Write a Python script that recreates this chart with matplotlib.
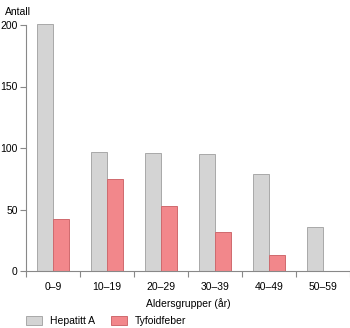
import numpy as np
import matplotlib.pyplot as plt

plt.rcParams['font.family'] = ['Liberation Sans', 'DejaVu Sans']

groups = ["0–9", "10–19", "20–29", "30–39", "40–49", "50–59"]
hepatitt = [201, 97, 96, 95, 79, 36]
tyfoid = [42, 75, 53, 32, 13, 0]

fig = plt.figure(figsize=(3.5, 3.28), dpi=100)
ax = fig.add_axes([26/350, 1-271/328, 324/350, 246/328])

x = np.arange(len(groups))
w = 0.3
ax.bar(x - 0.15, hepatitt, w, color='#d4d4d4', edgecolor='#a8a8a8', linewidth=0.7,
       label='Hepatitt A', clip_on=False)
ax.bar(x + 0.15, tyfoid, w, color='#f2878b', edgecolor='#cf6a6e', linewidth=0.7,
       label='Tyfoidfeber', clip_on=False)

ax.set_xlim(-0.5, 5.5)
ax.set_ylim(0, 200)
ax.set_yticks([0, 50, 100, 150, 200])
ax.set_xticks(np.arange(-0.5, 6, 1))
ax.set_xticklabels([])
ax.set_xticks(x, minor=True)
ax.set_xticklabels(groups, minor=True)
ax.tick_params(axis='x', which='minor', length=0, pad=8, labelsize=7.5)
ax.tick_params(axis='x', which='major', length=4, color='#888888', direction='out')
ax.tick_params(axis='y', length=4, color='#888888', labelsize=7.5, pad=2)
for s in ['top', 'right']:
    ax.spines[s].set_visible(False)
for s in ['left', 'bottom']:
    ax.spines[s].set_color('#888888')
    ax.spines[s].set_linewidth(0.8)

fig.text(5/350, 1-12/328, "Antall", fontsize=7.5, va='center', ha='left')
ax.set_xlabel("Aldersgrupper (år)", fontsize=7.5, labelpad=4)

fig.legend(loc='lower left', bbox_to_anchor=(24/350, 0.0), ncol=2, frameon=False,
           borderpad=0, borderaxespad=0.2,
           fontsize=7.5, handlelength=1.55, handleheight=0.9, columnspacing=1.5,
           handletextpad=0.75)

fig.savefig("out.png", dpi=100)
